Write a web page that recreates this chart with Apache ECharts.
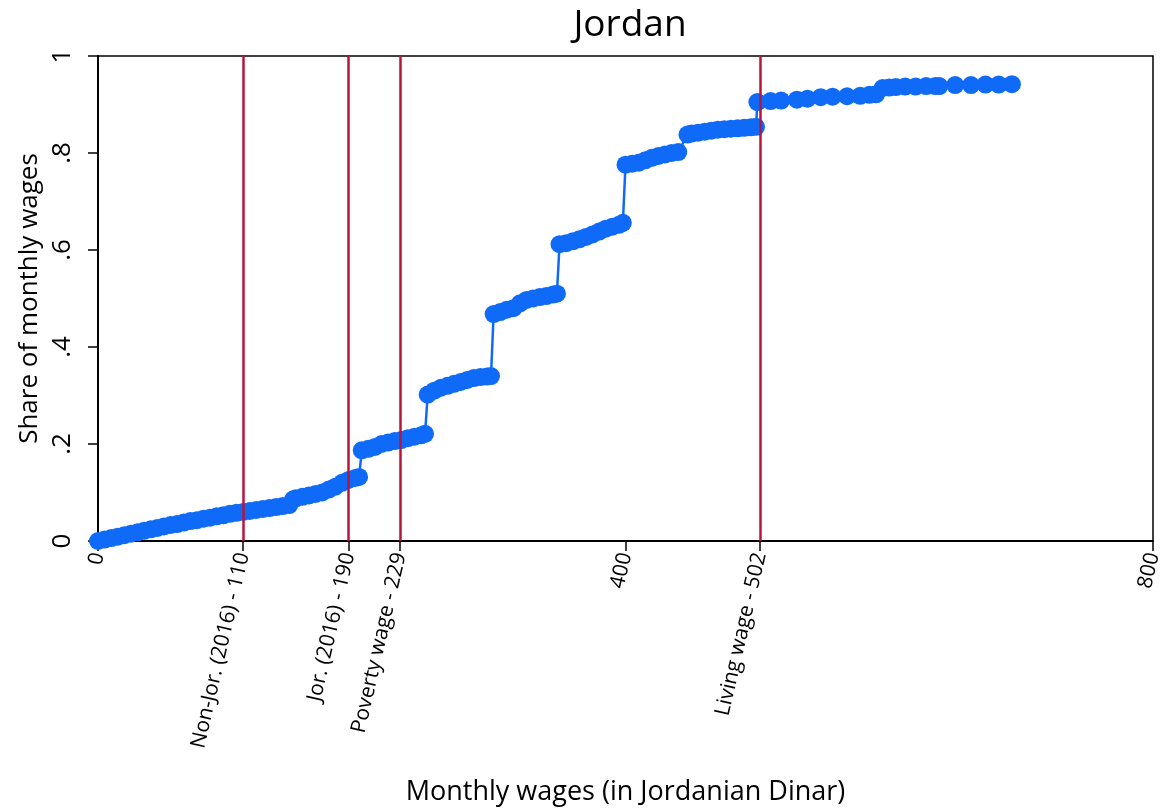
<!DOCTYPE html>
<html><head><meta charset="utf-8">
<script src="https://cdn.jsdelivr.net/npm/echarts@6/dist/echarts.min.js"></script>
<style>html,body{margin:0;padding:0;background:#fff}#c{width:1165px;height:810px}</style>
</head><body><div id="c"></div>
<script>
const wages = [0,5,10,15,20,25,30,35,40,45,50,55,60,65,70,75,80,85,90,95,100,105,110,115,120,125,130,135,140,145,
 148,150,155,160,165,170,175,180,185,190,195,198,
 200,205,210,215,220,225,230,235,240,245,248,
 250,255,260,265,270,275,280,285,290,295,298,
 300,305,310,315,320,325,330,335,340,345,348,
 350,355,360,365,370,375,380,385,390,395,398,
 400,405,410,415,420,425,430,435,440,
 447,450,455,460,465,470,475,480,485,490,495,499,
 500,510,518,530,538,548,557,568,578,585,590,
 595,600,605,612,620,628,635,638,
 650,662,673,683,693];
const shares = [0.000,0.003,0.006,0.009,0.012,0.015,0.018,0.021,0.024,0.027,0.030,0.033,0.035,0.038,0.041,0.043,0.046,0.048,0.051,0.053,0.056,0.058,0.060,0.062,0.064,0.066,0.068,0.070,0.072,0.074,
 0.086,0.088,0.091,0.094,0.097,0.100,0.106,0.112,0.120,0.126,0.130,0.132,
 0.187,0.190,0.194,0.200,0.203,0.206,0.208,0.212,0.215,0.218,0.221,
 0.302,0.310,0.316,0.320,0.324,0.328,0.332,0.336,0.338,0.339,0.340,
 0.468,0.472,0.477,0.480,0.490,0.497,0.500,0.503,0.505,0.508,0.510,
 0.612,0.614,0.618,0.622,0.627,0.632,0.638,0.644,0.648,0.652,0.656,
 0.776,0.778,0.780,0.785,0.790,0.794,0.797,0.800,0.802,
 0.838,0.840,0.842,0.844,0.846,0.848,0.849,0.850,0.851,0.852,0.853,0.854,
 0.905,0.907,0.908,0.910,0.912,0.915,0.916,0.917,0.918,0.920,0.921,
 0.934,0.935,0.936,0.937,0.937,0.938,0.938,0.938,
 0.940,0.940,0.941,0.941,0.942];
const thresholds = [110,190,229,502];
const xTicks = [0,110,190,229,400,502,800];
const xTickLabels = ['0','Non-Jor. (2016) - 110','Jor. (2016) - 190','Poverty wage - 229','400','Living wage - 502','800'];
const yTicks = [0,0.2,0.4,0.6,0.8,1];
const yTickLabels = ['0','.2','.4','.6','.8','1'];

const font = 'Open Sans';
const chart = echarts.init(document.getElementById('c'));
chart.setOption({
  animation:false,
  backgroundColor:'#fff',
  title:{text:'Jordan',left:625,top:2,textAlign:'center',textStyle:{fontFamily:font,fontSize:37,fontWeight:'normal',color:'#000'}},
  grid:{left:98,right:12,top:56,bottom:269,show:true,borderColor:'#000',borderWidth:1.5,outerBoundsMode:'none',containLabel:false},
  xAxis:{type:'value',min:0,max:800,
    name:'Monthly wages (in Jordanian Dinar)',nameLocation:'middle',nameGap:238,
    nameTextStyle:{fontFamily:font,fontSize:27,color:'#000'},
    axisLine:{lineStyle:{color:'#000',width:2}},
    axisTick:{customValues:xTicks,length:10,lineStyle:{color:'#000',width:1.5}},
    axisLabel:{customValues:xTicks,rotate:77,margin:12,fontFamily:font,fontSize:21,color:'#000',
      formatter:function(v){const i=xTicks.indexOf(v);return i>=0?xTickLabels[i]:'';}},
    splitLine:{show:false}},
  yAxis:{type:'value',min:0,max:1,interval:0.2,
    name:'Share of monthly wages',nameLocation:'middle',nameGap:54,
    nameTextStyle:{fontFamily:font,fontSize:26,color:'#000'},
    axisLine:{show:true,lineStyle:{color:'#000',width:2}},
    axisTick:{show:true,length:10,lineStyle:{color:'#000',width:1.5}},
    axisLabel:{rotate:90,margin:22,fontFamily:font,fontSize:26,color:'#000',
      formatter:function(v){const i=yTicks.findIndex(t=>Math.abs(t-v)<1e-9);return i>=0?yTickLabels[i]:'';}},
    splitLine:{show:false}},
  series:[
    {type:'line',data:[],z:1,silent:true,
      markLine:{symbol:'none',silent:true,label:{show:false},
        lineStyle:{color:'#b8143c',width:2.5,type:'solid'},
        data:thresholds.map(t=>({xAxis:t}))}},
    {type:'line',z:2,data:wages.map((w,i)=>[w,shares[i]]),
      symbol:'circle',symbolSize:18,showAllSymbol:true,
      itemStyle:{color:'#0f6bf7'},lineStyle:{color:'#0f6bf7',width:2.5}}
  ]
});
</script></body></html>
